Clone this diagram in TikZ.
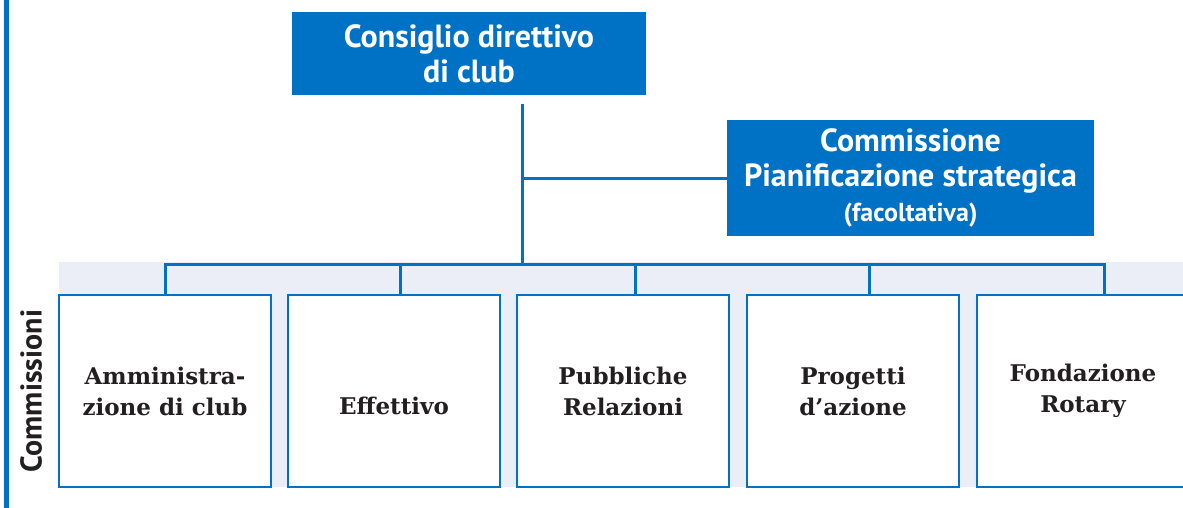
\documentclass[tikz,border=0pt]{standalone}
\usepackage{fontspec}
\setmainfont{DejaVu Serif}
\newfontfamily\headfont{PT Sans}
\usepackage{tikz}
\usetikzlibrary{
	positioning
}
\definecolor{rotblue}{RGB}{0,114,198}
\definecolor{bandgray}{RGB}{235,238,247}
\definecolor{inkdark}{RGB}{35,31,32}
\tikzset{
	board/.style={fill=rotblue,text=white,align=center,inner sep=0pt,
		font=\headfont\bfseries\fontsize{32}{35}\selectfont},
	commbox/.style={draw=rotblue,line width=2pt,fill=white,text=inkdark,
		minimum width=212pt,minimum height=192pt,align=center,inner sep=0pt,
		font=\bfseries\fontsize{23}{31}\selectfont},
	link/.style={draw=rotblue,line width=3pt}
}

\begin{document}
\begin{tikzpicture}[x=1pt,y=-1pt]
		\useasboundingbox (0,0) rectangle (1183,508);
		% side bar and band behind the commissions
		\draw[rotblue,line width=5pt] (6.5,0) -- (6.5,508);
		\fill[bandgray] (59,262) rectangle (1183,487);

		\node[board,minimum width=354pt,minimum height=83pt] (board) at (469,53.5)
			{Consiglio direttivo\\di club};
		\node[board,minimum width=367pt,minimum height=116pt] (plan) at (910.5,178)
			{Commissione\\Pianificazione strategica\\{\fontsize{26}{30}\selectfont(facoltativa)}};

		\node[commbox] (c1) at (165,391) {Amministra-\\zione di club};
		\node[commbox] (c2) at (394,391) {\vphantom{Pg}\\Effettivo};
		\node[commbox] (c3) at (623,391) {Pubbliche\\Relazioni};
		\node[commbox] (c4) at (853,391) {Progetti\\d'azione};
		\node[commbox] (c5) at (1083,391) {Fondazione\\Rotary};

		\node[rotate=90,text=inkdark,font=\headfont\bfseries\fontsize{30}{32}\selectfont]
			(label) at (31,391) {Commissioni};

		\coordinate (bus) at (522,264);
		\coordinate (d1) at (165,264);
		\coordinate (d2) at (400,264);
		\coordinate (d3) at (635,264);
		\coordinate (d4) at (869,264);
		\coordinate (d5) at (1104,264);

		\draw[link,shorten <=9pt] (bus |- board.south) -- (bus);
		\draw[link] (bus |- plan.west) -- (plan.west);
		\draw[link] (c1.north -| d1) -- (d1) -- (d5) -- (c5.north -| d5);
		\foreach \d/\c in {d2/c2,d3/c3,d4/c4}
			\draw[link] (\d) -- (\c.north -| \d);
\end{tikzpicture}
\end{document}
